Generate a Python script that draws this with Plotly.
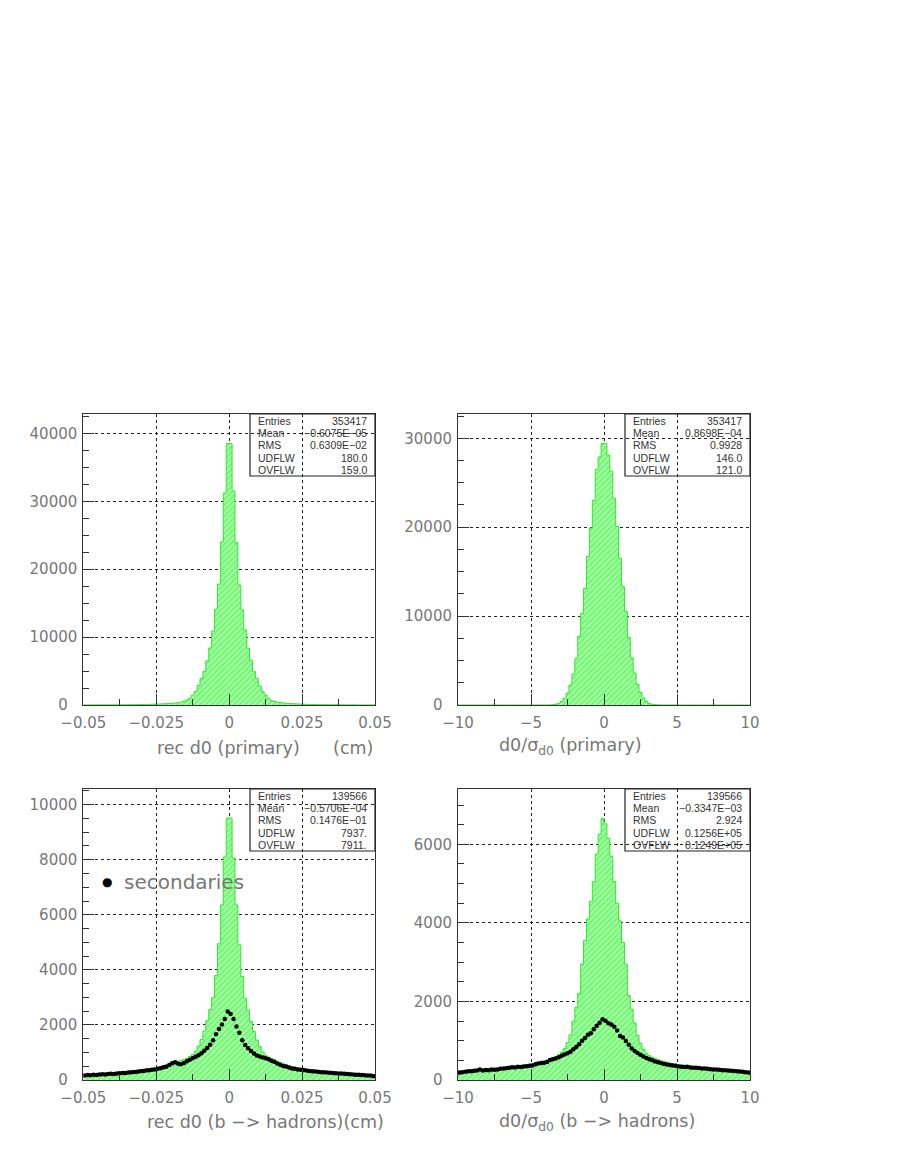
import numpy as np
import plotly.graph_objects as go

W, H = 900, 1164

# ---------------- data ----------------
d0_edges = np.linspace(-0.05, 0.05, 101)      # rec d0 (cm), 100 bins
sig_edges = np.linspace(-10.0, 10.0, 101)     # d0/sigma, 100 bins

# top-left: rec d0 (primary)
d0_primary = [14, 15, 16, 17, 18, 19, 20, 21, 23, 25,
              27, 29, 31, 34, 37, 41, 45, 50, 55, 62,
              70, 80, 90, 102, 118, 135, 155, 175, 195, 225,
              255, 295, 345, 410, 530, 720, 1000, 1450, 1990, 2850,
              3900, 4950, 6500, 8400, 10900, 14100, 17800, 24000, 31200, 38500,
              38500, 31500, 23900, 17670, 13990, 11050, 8350, 6600, 4910, 3930,
              2800, 1960, 1470, 980, 700, 520, 420, 350, 300, 260,
              230, 200, 180, 160, 140, 120, 100, 88, 78, 68,
              60, 54, 48, 44, 40, 36, 33, 30, 28, 26,
              24, 22, 20, 19, 18, 17, 16, 15, 14, 13]

# top-right: d0/sigma (primary)
sig_primary = [1, 0, 0, 1, 0, 1, 1, 0, 1, 1,
               1, 1, 1, 1, 1, 1, 1, 1, 1, 2,
               2, 2, 2, 2, 3, 3, 3, 4, 5, 6,
               9, 17, 38, 80, 185, 390, 760, 1350, 2250, 3500,
               5200, 7700, 10300, 13100, 16700, 19900, 23000, 26500, 27900, 29400,
               29440, 28120, 26300, 23200, 20100, 16500, 13300, 10500, 7600, 5300,
               3600, 2300, 1400, 780, 400, 190, 85, 40, 18, 9,
               6, 5, 4, 4, 3, 3, 3, 2, 2, 2,
               2, 2, 1, 1, 1, 1, 1, 1, 1, 1,
               1, 1, 1, 1, 0, 1, 0, 1, 1, 0]

# bottom-left: rec d0 (b -> hadrons), all tracks
d0_bhad = [194, 200, 207, 214, 221, 228, 236, 244, 252, 260,
           268, 276, 285, 295, 305, 316, 328, 340, 352, 366,
           378, 390, 405, 420, 440, 460, 490, 520, 560, 600,
           665, 690, 680, 700, 740, 790, 850, 920, 1040, 1230,
           1470, 1780, 2150, 2560, 2990, 3800, 4950, 6360, 8100, 9515,
           9515, 8060, 6360, 4910, 3760, 2970, 2545, 2120, 1760, 1455,
           1210, 1020, 900, 830, 780, 730, 680, 635, 590, 555,
           520, 490, 465, 440, 420, 400, 385, 370, 358, 346,
           335, 322, 312, 302, 292, 284, 276, 268, 260, 252,
           244, 236, 228, 220, 214, 208, 202, 196, 190, 184]

# bottom-left: secondaries (points)
d0_secondaries = [165, 180, 175, 190, 185, 200, 205, 200, 215, 225,
                  220, 240, 245, 255, 250, 270, 280, 290, 300, 315,
                  330, 345, 355, 370, 385, 405, 425, 460, 485, 545,
                  610, 645, 590, 570, 620, 680, 740, 790, 840, 900,
                  970, 1060, 1160, 1280, 1440, 1660, 1850, 2020, 2220, 2485,
                  2400, 2220, 1940, 1720, 1440, 1270, 1150, 1050, 960, 890,
                  850, 815, 790, 750, 700, 660, 600, 550, 510, 490,
                  455, 420, 410, 380, 370, 360, 345, 330, 320, 310,
                  300, 285, 280, 270, 260, 255, 245, 240, 235, 225,
                  215, 210, 200, 195, 190, 180, 175, 165, 160, 140]

# bottom-right: d0/sigma (b -> hadrons), all tracks
sig_bhad = [226, 232, 238, 244, 250, 256, 262, 268, 274, 280,
            286, 292, 298, 304, 311, 318, 325, 332, 340, 350,
            360, 370, 380, 390, 400, 415, 430, 445, 460, 480,
            510, 540, 570, 600, 640, 700, 800, 950, 1150, 1500,
            1850, 2200, 2950, 3550, 4100, 4550, 5050, 5750, 6250, 6660,
            6520, 6150, 5700, 5050, 4500, 4050, 3500, 2950, 2150, 1800,
            1450, 1130, 930, 780, 680, 620, 580, 550, 520, 490,
            470, 450, 435, 420, 405, 395, 385, 375, 365, 355,
            345, 336, 328, 320, 312, 305, 298, 291, 284, 277,
            270, 263, 256, 250, 244, 238, 232, 226, 220, 214]

# bottom-right: secondaries (points)
sig_secondaries = [190, 200, 210, 220, 225, 235, 240, 265, 245, 255,
                   250, 265, 260, 270, 285, 290, 300, 310, 325, 320,
                   335, 330, 345, 350, 360, 370, 400, 420, 430, 440,
                   460, 510, 530, 550, 580, 620, 650, 680, 720, 780,
                   840, 910, 1000, 1070, 1150, 1190, 1290, 1380, 1460, 1545,
                   1510, 1443, 1410, 1358, 1260, 1120, 1080, 990, 900, 800,
                   740, 690, 640, 600, 560, 530, 500, 470, 450, 430,
                   410, 395, 380, 370, 360, 345, 340, 330, 335, 320,
                   315, 310, 305, 295, 290, 285, 275, 270, 265, 260,
                   250, 248, 240, 235, 232, 225, 218, 210, 200, 190]

stat_labels = ["Entries", "Mean", "RMS", "UDFLW", "OVFLW"]
stats_tl = ["353417", "\u22120.6075E\u221205", "0.6309E\u221202", "180.0", "159.0"]
stats_tr = ["353417", "0.8698E\u221204", "0.9928", "146.0", "121.0"]
stats_bl = ["139566", "\u22120.5706E\u221204", "0.1476E\u221201", "7937.", "7911."]
stats_br = ["139566", "\u22120.3347E\u221203", "2.924", "0.1256E+05", "0.1249E+05"]

d0_tickvals = [-0.05, -0.025, 0, 0.025, 0.05]
d0_ticktext = ["\u22120.05", "\u22120.025", "0", "0.025", "0.05"]
sig_tickvals = [-10, -5, 0, 5, 10]
sig_ticktext = ["\u221210", "\u22125", "0", "5", "10"]
y_ticks_tl = [0, 10000, 20000, 30000, 40000]
y_ticks_tr = [0, 10000, 20000, 30000]
y_ticks_bl = [0, 2000, 4000, 6000, 8000, 10000]
y_ticks_br = [0, 2000, 4000, 6000]

titles = ["rec d0 (primary)\u00a0\u00a0\u00a0\u00a0\u00a0\u00a0(cm)",
          "d0/\u03c3<sub>d0</sub> (primary)",
          "rec d0 (b \u2212> hadrons)(cm)",
          "d0/\u03c3<sub>d0</sub> (b \u2212> hadrons)"]

# ---------------- style ----------------
FONT = "DejaVu Sans"
TXT = "#777777"
AX = "#333333"
GREEN_LINE = "#2ee82e"
GREEN_BG = "#b0ffb0"


def px(x):
    return x / W


def py(y):
    return 1 - y / H


def ylabel(v):
    # the zero label sits a little left of the column, as in the original
    return "0\u2007" if v == 0 else str(v)


panels = [
    dict(edges=d0_edges, vals=d0_primary, pts=None, xdom=(83.3, 375), ydom=(414, 705),
         xr=[-0.05, 0.05], yr=[0, 42850], xt=(d0_tickvals, d0_ticktext), xminor=0.0125,
         yt=y_ticks_tl, yminor=2500, stats=stats_tl, box=(250, 375, 414, 476),
         title=titles[0], tpos=(155, 748, "left")),
    dict(edges=sig_edges, vals=sig_primary, pts=None, xdom=(458, 750), ydom=(414, 705),
         xr=[-10, 10], yr=[0, 32730], xt=(sig_tickvals, sig_ticktext), xminor=2.5,
         yt=y_ticks_tr, yminor=2500, stats=stats_tr, box=(625, 750, 414, 476),
         title=titles[1], tpos=(497, 746, "left")),
    dict(edges=d0_edges, vals=d0_bhad, pts=d0_secondaries, xdom=(83.3, 375), ydom=(789, 1080),
         xr=[-0.05, 0.05], yr=[0, 10570], xt=(d0_tickvals, d0_ticktext), xminor=0.0125,
         yt=y_ticks_bl, yminor=500, stats=stats_bl, box=(250, 375, 789, 851),
         title=titles[2], tpos=(145, 1122, "left")),
    dict(edges=sig_edges, vals=sig_bhad, pts=sig_secondaries, xdom=(458, 750), ydom=(789, 1080),
         xr=[-10, 10], yr=[0, 7408], xt=(sig_tickvals, sig_ticktext), xminor=2.5,
         yt=y_ticks_br, yminor=500, stats=stats_br, box=(625, 750, 789, 851),
         title=titles[3], tpos=(497, 1122, "left")),
]

fig = go.Figure()
shapes = []
annotations = []
layout_axes = {}

for n, p in enumerate(panels, start=1):
    sfx = "" if n == 1 else str(n)
    xref, yref = "x" + sfx, "y" + sfx
    edges = np.asarray(p["edges"])
    vals = list(p["vals"])
    fig.add_trace(go.Scatter(
        x=edges, y=vals + [vals[-1]], mode="lines", line_shape="hv",
        line=dict(color=GREEN_LINE, width=1), fill="tozeroy", fillcolor=GREEN_BG,
        fillpattern=dict(shape="/", fgcolor="#30f030", bgcolor=GREEN_BG, size=4, solidity=0.55),
        xaxis=xref, yaxis=yref, showlegend=False, hoverinfo="skip"))
    if p["pts"] is not None:
        centers = 0.5 * (edges[:-1] + edges[1:])
        fig.add_trace(go.Scatter(
            x=centers, y=p["pts"], mode="markers",
            marker=dict(color="black", size=4.5, line=dict(width=0)),
            xaxis=xref, yaxis=yref, showlegend=False, hoverinfo="skip"))

    common = dict(showline=True, mirror=True, linecolor=AX, linewidth=1, automargin=False,
                  showgrid=True, gridcolor="#222222", griddash="dot", gridwidth=1,
                  zeroline=False, ticks="inside", ticklen=11, tickwidth=1, tickcolor=AX,
                  tickfont=dict(family=FONT, size=15, color=TXT))
    layout_axes["xaxis" + sfx] = dict(
        common, domain=[px(p["xdom"][0]), px(p["xdom"][1])], range=p["xr"],
        anchor=yref, tickvals=p["xt"][0], ticktext=p["xt"][1], ticklabelstandoff=4,
        minor=dict(dtick=p["xminor"], tick0=0, ticks="inside", ticklen=6,
                   tickcolor=AX, showgrid=False))
    layout_axes["yaxis" + sfx] = dict(
        common, domain=[py(p["ydom"][1]), py(p["ydom"][0])], range=p["yr"],
        anchor=xref, tickvals=p["yt"], ticktext=[ylabel(v) for v in p["yt"]],
        ticklabelstandoff=2,
        minor=dict(dtick=p["yminor"], tick0=0, ticks="inside", ticklen=6,
                   tickcolor=AX, showgrid=False))

    # statistics box
    bx0, bx1, by0, by1 = p["box"]
    shapes.append(dict(type="rect", xref="paper", yref="paper",
                       x0=px(bx0), x1=px(bx1), y0=py(by1), y1=py(by0),
                       line=dict(color="#222222", width=1.2), fillcolor="rgba(0,0,0,0)"))
    for r, (lab, val) in enumerate(zip(stat_labels, p["stats"])):
        yy = by0 + 6.6 + 12.4 * r
        annotations.append(dict(x=px(bx0 + 6), y=py(yy), xref="paper", yref="paper",
                                text=lab, showarrow=False, xanchor="left", yanchor="middle",
                                font=dict(family="Liberation Sans", size=10.5, color="#333333")))
        annotations.append(dict(x=px(bx1 - 6), y=py(yy), xref="paper", yref="paper",
                                text=val, showarrow=False, xanchor="right", yanchor="middle",
                                font=dict(family="Liberation Sans", size=10.5, color="#333333")))

    # axis title
    tx, ty, anc = p["tpos"]
    annotations.append(dict(x=px(tx), y=py(ty), xref="paper", yref="paper", text=p["title"],
                            showarrow=False, xanchor=anc, yanchor="middle",
                            font=dict(family=FONT, size=17.5, color=TXT)))

# legend for secondaries (bottom-left)
annotations.append(dict(x=px(106.5), y=py(882), xref="paper", yref="paper", text="\u25cf",
                        showarrow=False, xanchor="center", yanchor="middle",
                        font=dict(family=FONT, size=12, color="black")))
annotations.append(dict(x=px(122), y=py(882), xref="paper", yref="paper", text="secondaries",
                        showarrow=False, xanchor="left", yanchor="middle",
                        font=dict(family=FONT, size=20, color=TXT)))

fig.update_layout(
    width=W, height=H, margin=dict(l=0, r=0, t=0, b=0, autoexpand=False),
    paper_bgcolor="white", plot_bgcolor="white",
    shapes=shapes, annotations=annotations, showlegend=False,
    **layout_axes)

# the page's default body margin would shift the whole figure by 8 px
fig.write_html("out.html", config={"displayModeBar": False},
               post_script="document.body.style.margin='0';document.body.style.padding='0';")
